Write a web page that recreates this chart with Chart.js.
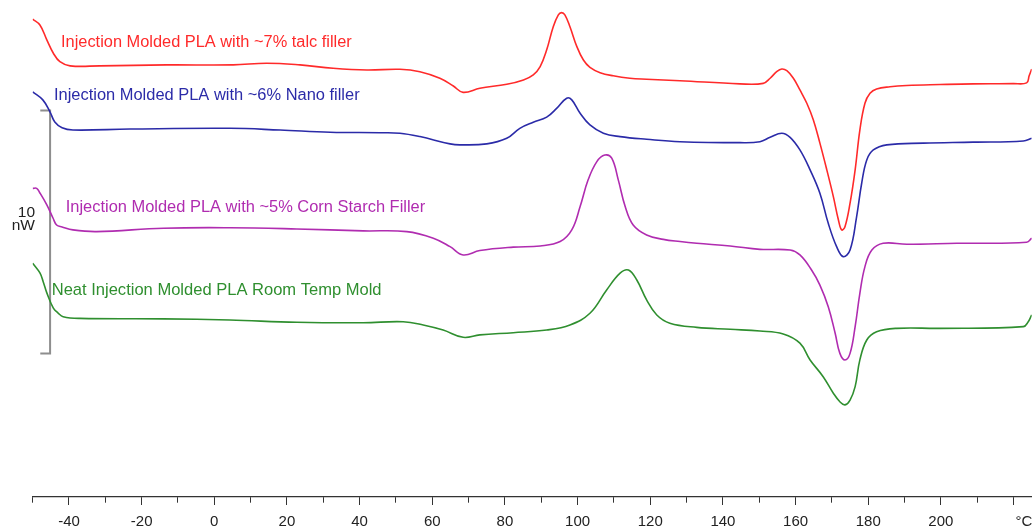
<!DOCTYPE html>
<html><head><meta charset="utf-8">
<script src="https://cdn.jsdelivr.net/npm/chart.js@4.4.1/dist/chart.umd.min.js"></script>
<style>html,body{margin:0;padding:0;background:#fff;overflow:hidden}canvas{display:block}</style>
</head><body>
<canvas id="c" width="1034" height="527"></canvas>
<script>
// ---- Data (temperature in °C, heat flow in nW, curves offset as in the plot) ----
const seriesNames = [
  'Injection Molded PLA with ~7% talc filler',
  'Injection Molded PLA with ~6% Nano filler',
  'Injection Molded PLA with ~5% Corn Starch Filler',
  'Neat Injection Molded PLA Room Temp Mold'
];
const seriesColors = ['#ff2a2a', '#2b2ba8', '#b02cb0', '#2f8f2f'];

const talcT = [-50,-48,-46.1,-44.3,-42.5,-39.7,-31.5,-13.1,5.2,14.4,23.6,32.7,42,51.1,56.6,62.1,65.8,68.5,73.1,80.5,85.1,87.8,89.7,91.5,93.3,94.7,95.6,96.5,97.9,99.8,101.6,103.4,106.2,109.8,114.4,119,128.2,144.7,151.1,153,154.8,156.2,157.6,159.4,161.2,163.1,164.9,166.7,168.6,170.4,171.8,172.7,173.6,175,176.4,177.7,179.1,180.5,182.3,186,190.6,199.8,208.9,219.9,223.6,224.3,225];
const talcV = [19.66,19.42,18.81,18.26,17.91,17.74,17.74,17.78,17.78,17.85,17.78,17.64,17.57,17.6,17.5,17.23,16.91,16.65,16.82,16.98,17.16,17.37,17.71,18.4,19.35,19.84,19.93,19.84,19.35,18.53,17.98,17.68,17.46,17.33,17.23,17.19,17.13,17.0,17.02,17.23,17.5,17.61,17.54,17.23,16.75,16.2,15.51,14.56,13.46,12.36,11.4,10.99,11.12,12.09,13.46,15.1,16.2,16.61,16.79,16.88,16.93,16.97,17.0,17.01,17.04,17.33,17.61];

const nanoT = [-50,-47.2,-45.2,-43.9,-41.9,-38.9,-23.2,4.3,18.1,31.9,45.6,51.1,56.6,64.9,67.6,75,80.5,84.1,87.8,91.5,94.3,97,98.4,100.7,103.4,107.1,111.7,119,128.2,144.7,150.2,153,156.2,158.5,161.2,164,166.7,169,171.3,173.1,175,176.8,178.2,179.6,181.4,185.1,195.2,208.9,222.7,225];
const nanoV = [16.67,16.34,15.84,15.43,15.19,15.1,15.14,15.17,15.1,15.01,14.99,14.97,14.83,14.53,14.49,14.53,14.76,15.17,15.42,15.63,16.0,16.41,16.34,15.79,15.31,14.97,14.83,14.72,14.62,14.58,14.62,14.8,14.97,14.8,14.28,13.46,12.5,11.26,10.3,9.89,10.16,11.53,12.91,13.87,14.28,14.49,14.56,14.6,14.65,14.76];

const starchT = [-50,-48.9,-48,-46.1,-44.4,-43.4,-41.9,-38.9,-32.4,-14,4.3,22.7,41,53,60.3,64.9,68.5,73.1,82.3,89.7,95.2,98.4,100.7,102.9,105.3,107.5,109.4,111.2,113.1,115.3,119,123.6,128.2,132.8,142,150.2,158.5,161.2,164.4,166.7,169,170.9,172.2,173.6,175,176.4,177.7,179.1,181,184.1,190.6,204.4,223.6,225];
const starchV = [12.7,12.7,12.51,12.02,11.48,11.19,11.11,10.99,10.92,11.06,11.08,11.03,10.95,10.92,10.65,10.3,9.96,10.14,10.28,10.33,10.51,10.99,11.95,13.05,13.8,14.07,13.94,13.05,11.95,11.19,10.78,10.6,10.51,10.44,10.33,10.19,10.16,9.96,9.34,8.72,7.83,6.74,5.91,5.64,5.91,7.01,8.38,9.48,10.16,10.44,10.4,10.44,10.48,10.65];

const neatT = [-50,-48,-47.1,-46.1,-44.3,-43,-41.6,-37,-14,4.3,22.7,41,52,57.5,63,68.5,73.1,82.3,91.5,97.9,103.4,108,111.7,114,116.3,119,121.8,125.4,132.8,142,150.2,156.6,161.2,164,167.6,170.4,172.2,173.6,175,176.4,177.7,179.6,182.3,187.8,199.8,222.7,224,225];
const neatV = [9.62,9.22,8.86,8.4,7.77,7.57,7.42,7.35,7.33,7.28,7.19,7.17,7.21,7.08,6.87,6.57,6.67,6.76,6.87,7.08,7.56,8.52,9.21,9.34,8.93,8.11,7.49,7.15,6.98,6.9,6.83,6.71,6.33,5.64,4.95,4.27,3.92,3.79,3.99,4.54,5.64,6.46,6.8,6.94,6.94,7.01,7.2,7.49];

const xTickValues = [-50,-40,-30,-20,-10,0,10,20,30,40,50,60,70,80,90,100,110,120,130,140,150,160,170,180,190,200,210,220];
const xTickLabels = ['','-40','','-20','','0','','20','','40','','60','','80','','100','','120','','140','','160','','180','','200','','     \u00B0C'];

const scaleBarLabel = ['10', 'nW'];
const scaleBarSpan = 10; // nW

// ---- Build ----
function pts(T, V) { const n = Math.min(T.length, V.length); const a = []; for (let i = 0; i < n; i++) a.push({x: T[i], y: V[i]}); return a; }
const allT = [talcT, nanoT, starchT, neatT];
const allV = [talcV, nanoV, starchV, neatV];

const datasets = allT.map((T, i) => ({
  label: seriesNames[i],
  data: pts(T, allV[i]),
  borderColor: seriesColors[i],
  borderWidth: 1.6,
  pointRadius: 0,
  fill: false,
  tension: 0.4
}));

// text label placement (pixels) and scale-bar placement (data units)
const labelPos = [[61, 46.7, 291], [54, 100, 306], [65.7, 211.7, 360], [51.7, 295, 330]];
const bar = {t: -45.2, tickT: -47.9, top: 15.9};

const annot = {
  id: 'annot',
  beforeDatasetsDraw(chart) {
    const {ctx, scales: {x, y}} = chart;
    ctx.save();
    const bx = x.getPixelForValue(bar.t);
    const bl = x.getPixelForValue(bar.tickT);
    const y0 = y.getPixelForValue(bar.top);
    const y1 = y.getPixelForValue(bar.top - scaleBarSpan);
    ctx.strokeStyle = '#8e8e8e';
    ctx.lineWidth = 2;
    ctx.beginPath();
    ctx.moveTo(bl, y0); ctx.lineTo(bx, y0); ctx.lineTo(bx, y1); ctx.lineTo(bl, y1);
    ctx.stroke();
    ctx.restore();
  },
  afterDatasetsDraw(chart) {
    const {ctx} = chart;
    ctx.save();
    ctx.textBaseline = 'alphabetic';
    ctx.textAlign = 'left';
    seriesNames.forEach((name, i) => {
      const [px, py, w] = labelPos[i];
      ctx.font = '16px "Liberation Sans", Arial, sans-serif';
      const m = ctx.measureText(name).width;
      const size = 16 * w / m;
      ctx.font = size.toFixed(2) + 'px "Liberation Sans", Arial, sans-serif';
      ctx.fillStyle = seriesColors[i];
      ctx.fillText(name, px, py);
    });
    ctx.fillStyle = '#222';
    ctx.font = '15.5px "Liberation Sans", Arial, sans-serif';
    ctx.textAlign = 'right';
    ctx.fillText(scaleBarLabel[0], 35, 216.8);
    ctx.fillText(scaleBarLabel[1], 35, 230.2);
    ctx.restore();
  }
};

new Chart(document.getElementById('c'), {
  type: 'line',
  data: {datasets},
  options: {
    responsive: false,
    animation: false,
    devicePixelRatio: 1,
    layout: {padding: {left: 32.65, right: 2.3, top: 0, bottom: 0}},
    plugins: {legend: {display: false}, tooltip: {enabled: false}},
    scales: {
      x: {
        type: 'linear',
        min: -50, max: 225,
        afterBuildTicks: (axis) => { axis.ticks = xTickValues.map(v => ({value: v})); },
        afterFit: (axis) => { axis.height = 30; },
        grid: {
          drawOnChartArea: false, drawTicks: true, tickLength: 8, tickColor: '#333', tickWidth: 1,
          tickBorderDash: (c) => (c.index % 2 === 0 ? [5.5, 20] : [])
        },
        border: {display: true, color: '#333', width: 1.2},
        ticks: {
          autoSkip: false, maxRotation: 0, minRotation: 0, padding: 0,
          color: '#222',
          font: {family: '"Liberation Sans", Arial, sans-serif', size: 15, lineHeight: 34/15},
          callback: (v, i) => xTickLabels[i]
        }
      },
      y: {type: 'linear', min: 0, max: 20.45, display: false}
    }
  },
  plugins: [annot]
});
</script>
</body></html>
